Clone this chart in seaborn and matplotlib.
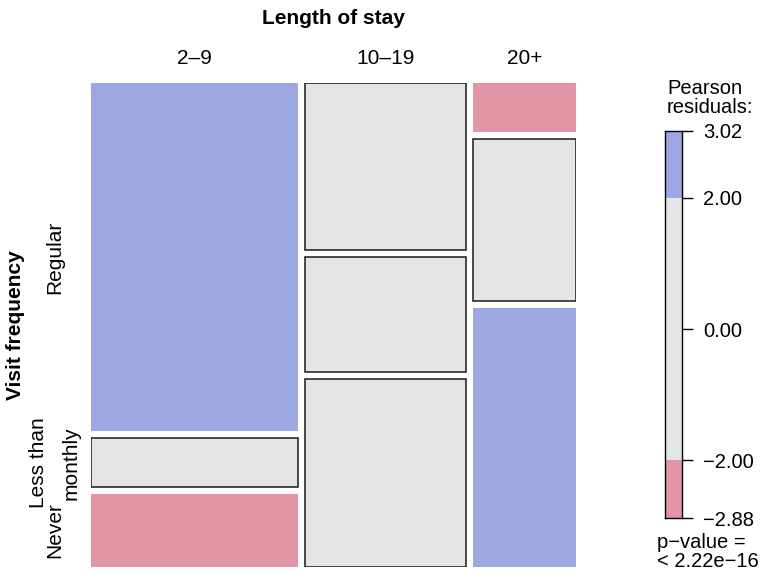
import numpy as np
import matplotlib
matplotlib.use("Agg")
import matplotlib.pyplot as plt
import matplotlib.transforms as mtransforms
import seaborn as sns

# ---- data (Hospital: visit frequency x length of stay) ----
stay = ["2\u20139", "10\u201319", "20+"]
visit = ["Regular", "Less than\nmonthly", "Never"]
regular = [43, 16, 3]
less_monthly = [6, 11, 10]
never = [9, 18, 16]
pvalue_text = "p\u2212value =\n< 2.22e\u221216"

counts = np.array([regular, less_monthly, never], dtype=float)
N = counts.sum()
row_tot = counts.sum(axis=1)
col_tot = counts.sum(axis=0)
expected = np.outer(row_tot, col_tot) / N
resid = (counts - expected) / np.sqrt(expected)

BLUE = "#9DA8E2"
RED = "#E295A6"
GREY = "#E5E5E5"

sns.set_theme(style="white")
plt.rcParams['font.family'] = ['Liberation Sans', 'DejaVu Sans']
plt.rcParams['text.color'] = 'black'
plt.rcParams['ytick.color'] = 'black'

W, H = 765, 574
fig = plt.figure(figsize=(W / 100, H / 100), dpi=100)


def box(x0, y0, x1, y1):
    return [x0 / W, 1 - y1 / H, (x1 - x0) / W, (y1 - y0) / H]


def shade(r):
    if r > 2:
        return BLUE, "none", 0
    if r < -2:
        return RED, "none", 0
    return GREY, "#1a1a1a", 1.1


# ---- mosaic ----
ax = fig.add_axes(box(91, 83, 576, 567))
gap_x = 7 / 471
gap_y = 7 / 470
colw = col_tot / N
x = 0.0
col_centers = []
first_col_centers = []
for j in range(len(stay)):
    y = 0.0
    for i in range(len(visit)):
        h = counts[i, j] / col_tot[j]
        fc, ec, lw = shade(resid[i, j])
        ax.bar(x, h, width=colw[j], bottom=y, align="edge",
               color=fc, edgecolor=ec, linewidth=lw)
        if j == 0:
            first_col_centers.append(y + h / 2)
        y += h + gap_y
    col_centers.append(x + colw[j] / 2)
    x += colw[j] + gap_x
ax.set_xlim(0, 1 + 2 * gap_x)
ax.set_ylim(1 + 2 * gap_y, 0)
ax.axis("off")

fs = 15
tx = mtransforms.blended_transform_factory(ax.transData, fig.transFigure)
for c, lab in zip(col_centers, stay):
    ax.text(c, 1 - 58 / H, lab, transform=tx, ha="center", va="center", fontsize=fs)

ty = mtransforms.blended_transform_factory(fig.transFigure, ax.transData)
for c, lab in zip(first_col_centers, visit):
    ax.text(55 / W, c, lab, transform=ty, ha="center", va="center",
            rotation=90, fontsize=fs, multialignment="center", linespacing=1.9)

fig.text(333.5 / W, 1 - 19 / H, "Length of stay", ha="center", va="center",
         fontsize=fs, fontweight="bold")
fig.text(16 / W, 1 - 325 / H, "Visit frequency", ha="center", va="center",
         fontsize=fs, fontweight="bold", rotation=90)

# ---- legend ----
rmin, rmax = resid.min(), resid.max()
lax = fig.add_axes(box(665, 131, 682, 518))
segs = [(rmin, -2, RED), (-2, 2, GREY), (2, rmax, BLUE)]
for lo, hi, col in segs:
    lax.bar(0, hi - lo, bottom=lo, width=1, align="edge", color=col, linewidth=0)
lax.set_xlim(0, 1)
lax.set_ylim(rmin, rmax)
lax.set_xticks([])
ticks = [rmax, 2, 0, -2, rmin]
lax.yaxis.tick_right()
lax.set_yticks(ticks)
lax.set_yticklabels([f"{t:.2f}".replace("-", "\u2212") for t in ticks], fontsize=14.5)
lax.tick_params(axis="y", direction="out", length=8, width=1, color="black",
                pad=7, right=True, left=False, labelcolor="black")
for s in lax.spines.values():
    s.set_visible(True)
    s.set_color("black")
    s.set_linewidth(1)

fig.text(667 / W, 1 - 98 / H, "Pearson\nresiduals:", ha="left", va="center",
         fontsize=14.5, linespacing=1.05)
fig.text(657 / W, 1 - 552 / H, pvalue_text, ha="left", va="center",
         fontsize=14.5, linespacing=1.05)

fig.savefig("out.png", dpi=100, facecolor="white")
